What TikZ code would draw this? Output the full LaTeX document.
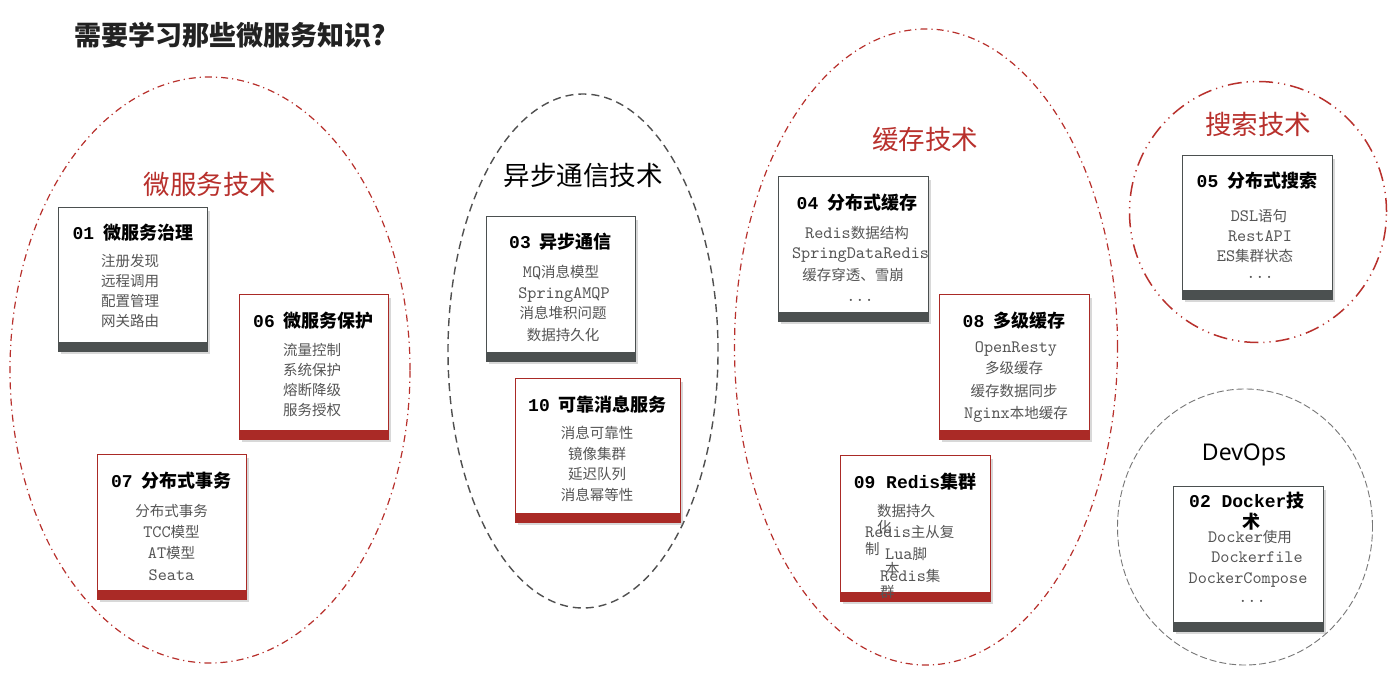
\documentclass[tikz,border=0pt]{standalone}
\usepackage{fontspec}
\setmainfont{Noto Sans CJK SC}
\newfontfamily\mono[Scale=1.2]{lmmono10-regular.otf}
\newfontfamily\monob{Liberation Mono}
\newfontfamily\latsans{Noto Sans}
\usetikzlibrary{shadows,shapes.geometric}
\definecolor{ringred}{HTML}{B8302C}
\definecolor{labred}{HTML}{B8302C}
\definecolor{barred}{HTML}{AA2A26}
\definecolor{bargray}{HTML}{4B5050}
\definecolor{itemgray}{HTML}{555555}
\definecolor{ringgray}{HTML}{505050}
\definecolor{ringlight}{HTML}{777777}
\definecolor{titleblack}{HTML}{222222}
\newcommand\mkcard[6]{%
  \node[card=#6, minimum width=#4pt, minimum height=#5pt] (#1) at (#2,#3) {};
  \node[cardbar=#6, minimum width=#4pt] (#1bar) at (#1.south) {};
}
\begin{document}
\begin{tikzpicture}[x=1pt,y=-1pt,
  card/.style={draw=#1, fill=white, line width=1.1pt, anchor=north west, inner sep=0pt,
    drop shadow={opacity=0.3, shadow xshift=2.5pt, shadow yshift=-3pt}},
  cardbar/.style={fill=#1, draw=#1, line width=0.5pt, anchor=south, inner sep=0pt, minimum height=8.5pt},
  ctitle/.style={font=\fontsize{18}{21}\selectfont\bfseries, text=black, inner sep=0pt, text height=13.5pt, text depth=3pt},
  item/.style={font=\fontsize{14.5}{17}\selectfont, text=itemgray, inner sep=0pt, text height=11pt, text depth=2.5pt},
  litem/.style={item, anchor=west},
  grouplabel/.style={font=\fontsize{26.5}{30}\selectfont, inner sep=0pt},
  redring/.style={ellipse, draw=ringred, line width=1.2pt, dash pattern=on 7pt off 4pt on 1.2pt off 4pt, inner sep=0pt},
  redring2/.style={ellipse, draw=ringred, line width=1.5pt, dash pattern=on 14pt off 5pt on 1.2pt off 5pt on 1.2pt off 5pt, inner sep=0pt},
  grayring/.style={ellipse, draw=ringgray, line width=1.4pt, dash pattern=on 8pt off 5pt, inner sep=0pt},
  lightring/.style={ellipse, draw=ringlight, line width=0.9pt, dash pattern=on 7pt off 3pt, inner sep=0pt}
]
\useasboundingbox (0,0) rectangle (1396,676);
\fill[white] (0,0) rectangle (1396,676);

% main title
\node[anchor=west, font=\fontsize{27}{32}\selectfont\bfseries, text=titleblack, inner sep=0pt] (maintitle) at (74,35) {需要学习那些微服务知识?};

% group rings
\node[redring, minimum width=400pt, minimum height=586pt] (g1) at (210,370) {};
\node[grayring, minimum width=270pt, minimum height=514pt] (g2) at (583,351) {};
\node[redring, minimum width=383pt, minimum height=636pt] (g3) at (926,347) {};
\node[redring2, minimum width=257pt, minimum height=261pt] (g4) at (1258,212) {};
\node[lightring, minimum width=255pt, minimum height=276pt] (g5) at (1245,527) {};

% group labels
\node[grouplabel, text=labred] (l1) at (210,184) {微服务技术};
\node[grouplabel, text=black] (l2) at (583,175) {异步通信技术};
\node[grouplabel, text=labred] (l3) at (925,139) {缓存技术};
\node[grouplabel, text=labred] (l4) at (1258,124) {搜索技术};
\node[font=\latsans\fontsize{23}{28}\selectfont, text=black, inner sep=0pt] (l5) at (1244,455) {DevOps};

% cards
\mkcard{c01}{58}{207}{149}{143}{bargray}
\mkcard{c06}{239}{294}{149}{144}{barred}
\mkcard{c07}{97}{454}{149}{144}{barred}
\mkcard{c03}{486}{216}{149}{144}{bargray}
\mkcard{c10}{515}{378}{165}{143}{barred}
\mkcard{c04}{778}{176}{150}{144}{bargray}
\mkcard{c08}{939}{294}{150}{144}{barred}
\mkcard{c09}{840}{455}{150}{145}{barred}
\mkcard{c05}{1182}{155}{150}{143}{bargray}
\mkcard{c02}{1173}{486}{150}{144}{bargray}

% 01
\node[ctitle] (t01) at (133,234) {{\monob\bfseries 01}\hspace{9pt}微服务治理};
\node[item] (i01a) at (130,262) {注册发现};
\node[item] (i01b) at (130,282) {远程调用};
\node[item] (i01c) at (130,302) {配置管理};
\node[item] (i01d) at (130,322) {网关路由};
% 06
\node[ctitle] (t06) at (313.5,322) {{\monob\bfseries 06}\hspace{9pt}微服务保护};
\node[item] (i06a) at (312,351) {流量控制};
\node[item] (i06b) at (312,371) {系统保护};
\node[item] (i06c) at (312,391) {熔断降级};
\node[item] (i06d) at (312,411) {服务授权};
% 07
\node[ctitle] (t07) at (171.5,482) {{\monob\bfseries 07}\hspace{9pt}分布式事务};
\node[item] (i07a) at (171.5,512) {分布式事务};
\node[item] (i07b) at (171.5,533) {{\mono TCC}模型};
\node[item] (i07c) at (171.5,554) {{\mono AT}模型};
\node[item] (i07d) at (171.5,576) {{\mono Seata}};
% 03
\node[ctitle] (t03) at (560.5,243) {{\monob\bfseries 03}\hspace{9pt}异步通信};
\node[item] (i03a) at (561,273) {{\mono MQ}消息模型};
\node[item] (i03b) at (564,294) {{\mono SpringAMQP}};
\node[item] (i03c) at (563,314) {消息堆积问题};
\node[item] (i03d) at (563,336) {数据持久化};
% 10
\node[ctitle] (t10) at (597.5,406) {{\monob\bfseries 10}\hspace{9pt}可靠消息服务};
\node[item] (i10a) at (597,434) {消息可靠性};
\node[item] (i10b) at (597,455) {镜像集群};
\node[item] (i10c) at (597,475) {延迟队列};
\node[item] (i10d) at (597,496) {消息幂等性};
% 04
\node[ctitle] (t04) at (857,204) {{\monob\bfseries 04}\hspace{9pt}分布式缓存};
\node[item] (i04a) at (857,234) {{\mono Redis}数据结构};
\node[item] (i04b) at (860.5,254) {{\mono SpringDataRedis}};
\node[item] (i04c) at (853,276) {缓存穿透、雪崩};
\node[item] (i04d) at (860,297) {{\mono ...}};
% 08
\node[ctitle] (t08) at (1014,322) {{\monob\bfseries 08}\hspace{9pt}多级缓存};
\node[item] (i08a) at (1016,348) {{\mono OpenResty}};
\node[item] (i08b) at (1014,369) {多级缓存};
\node[item] (i08c) at (1014,392) {缓存数据同步};
\node[item] (i08d) at (1016,414) {{\mono Nginx}本地缓存};
% 09
\node[ctitle] (t09) at (915,483) {{\monob\bfseries 09 Redis}集群};
\node[litem] (i09a) at (877,512) {数据持久};
\node[litem] (i09a2) at (877,528) {化};
\node[litem] (i09b) at (865,533) {{\mono Redis}主从复};
\node[litem] (i09b2) at (865,550) {制};
\node[litem] (i09c) at (885,555) {{\mono Lua}脚};
\node[litem] (i09c2) at (885,570) {本};
\node[litem] (i09d) at (880,577) {{\mono Redis}集};
\node[litem] (i09d2) at (880,593) {群};
% 05
\node[ctitle] (t05) at (1257,182) {{\monob\bfseries 05}\hspace{9pt}分布式搜索};
\node[item] (i05a) at (1259,217) {{\mono DSL}语句};
\node[item] (i05b) at (1260,237) {{\mono RestAPI}};
\node[item] (i05c) at (1255,257) {{\mono ES}集群状态};
\node[item] (i05d) at (1260,274) {{\mono ...}};
% 02
\node[ctitle, anchor=west] (t02) at (1189,502) {{\monob\bfseries 02 Docker}技};
\node[ctitle, anchor=west] (t02b) at (1242,523) {术};
\node[item] (i02a) at (1250,538) {{\mono Docker}使用};
\node[item] (i02b) at (1257,558) {{\mono Dockerfile}};
\node[item] (i02c) at (1248,579) {{\mono DockerCompose}};
\node[item] (i02d) at (1252,598) {{\mono ...}};
\end{tikzpicture}
\end{document}
